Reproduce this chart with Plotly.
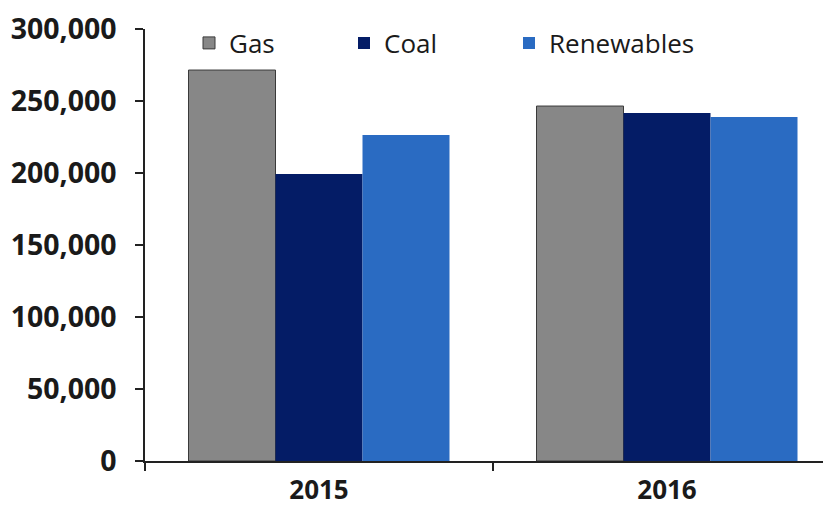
import plotly.graph_objects as go

categories = ["2015", "2016"]
gas = [271500, 246500]
coal = [199300, 241700]
renewables = [226400, 238900]
y_ticks = [0, 50000, 100000, 150000, 200000, 250000, 300000]

series = [
    ("Gas", gas, "#878787", "#3a3a3a", 1, "legend", 203),
    ("Coal", coal, "#041c66", "#041c66", 0, "legend2", 358),
    ("Renewables", renewables, "#2a6bc2", "#2a6bc2", 0, "legend3", 523),
]

# page has an 8px body margin: figure origin sits at (8, 8)
OFF = 8
W, H = 831 - OFF, 506 - OFF
left, top, bottom = 145 - OFF, 29 - OFF, 45
plot_w = W - left
plot_h = H - top - bottom
cat_px = 348
x_end = -0.5 + plot_w / cat_px

fig = go.Figure()
legends = {}
for name, vals, col, lcol, lw, leg, sq_x in series:
    fig.add_trace(go.Bar(
        x=categories, y=vals, name=name, legend=leg,
        marker=dict(color=col, line=dict(color=lcol, width=lw)),
    ))
    legends[leg] = dict(
        orientation="h", x=(sq_x - 14 - OFF - left) / plot_w,
        xanchor="left", yanchor="middle",
        y=1.0 - (43 - OFF - top) / plot_h,
        font=dict(family="Open Sans", size=26, color="#1a1a1a"),
        bgcolor="rgba(0,0,0,0)",
    )

fig.update_layout(
    width=W, height=H,
    margin=dict(l=left, r=0, t=top, b=bottom, autoexpand=False),
    paper_bgcolor="white", plot_bgcolor="white",
    barmode="group", bargap=0.25, bargroupgap=0,
    font=dict(family="Open Sans", color="#1a1a1a"),
    showlegend=True,
    xaxis=dict(
        type="category", range=[-0.5, x_end],
        showline=True, linecolor="#222", linewidth=1.5,
        ticks="outside", ticklen=8, tickwidth=1.5, tickcolor="#222",
        tickson="boundaries", showgrid=False, zeroline=False,
        tickfont=dict(family="Open Sans", size=26, color="#1a1a1a", weight="bold"),
        ticklabelstandoff=5,
    ),
    yaxis=dict(
        range=[0, 300000], tickvals=y_ticks,
        ticktext=[f"{v:,}" for v in y_ticks],
        showline=True, linecolor="#222", linewidth=1.5,
        ticks="outside", ticklen=8, tickwidth=1.5, tickcolor="#222",
        showgrid=False, zeroline=False,
        tickfont=dict(family="Open Sans", size=28.5, color="#1a1a1a", weight="bold"),
        ticklabelstandoff=13,
    ),
    **legends,
)

fig.write_html("out.html")
